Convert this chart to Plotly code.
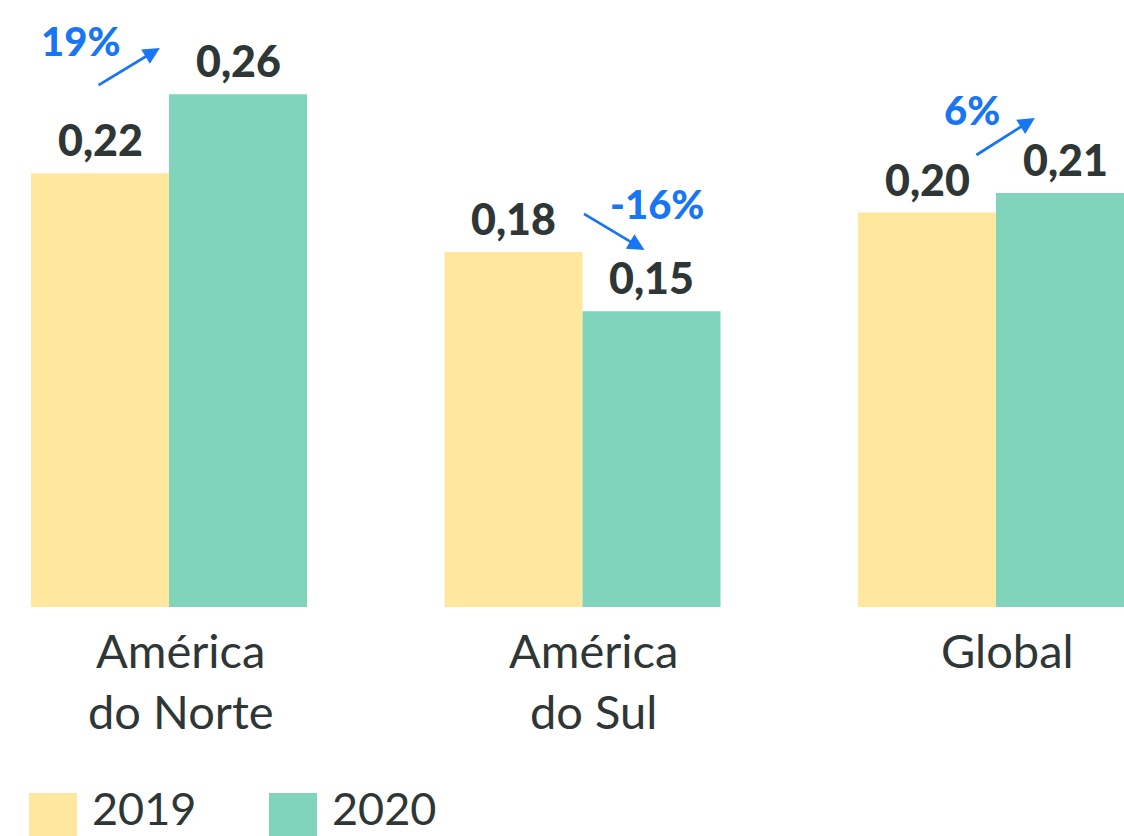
import plotly.graph_objects as go

# Data
categories = ["América<br>do Norte", "América<br>do Sul", "Global"]
values_2019 = [0.22, 0.18, 0.20]
values_2020 = [0.26, 0.15, 0.21]
series_names = ["2019", "2020"]
change_labels = ["19%", "-16%", "6%"]

# Styling
COLOR_2019 = "#FFE79D"
COLOR_2020 = "#80D4BC"
TEXT_DARK = "#2f3636"
BLUE = "#1976F2"
NUM_FONT = "Lato"
LABEL_FONT = "Lato"

W, H = 1124, 836
PLOT_BOTTOM = 607          # pixel row of the bar baseline
PX_PER_CAT = 413.5         # pixels between category centres
FIRST_CENTRE = 169         # pixel column of the first category centre
PX_PER_UNIT = 1972         # pixels per value unit

BAR_GAP = 0.3325
HALF = (1 - BAR_GAP) / 4  # offset of each bar centre from the category centre

fig = go.Figure()
fig.add_trace(go.Bar(x=list(range(3)), y=values_2019, name=series_names[0],
                     marker=dict(color=COLOR_2019, line=dict(width=0))))
fig.add_trace(go.Bar(x=list(range(3)), y=values_2020, name=series_names[1],
                     marker=dict(color=COLOR_2020, line=dict(width=0))))

annotations = []


def fmt(v):
    return f"{v:.2f}".replace(".", ",")


# Value labels above each bar
for i in range(3):
    for vals, sign in ((values_2019, -1), (values_2020, 1)):
        annotations.append(dict(
            x=i + sign * HALF, y=vals[i], xref="x", yref="y",
            text=fmt(vals[i]), showarrow=False, yanchor="bottom",
            yshift=6,
            font=dict(family=NUM_FONT, size=43, color=TEXT_DARK, weight=900),
        ))

# Category labels under each group
for i, cat in enumerate(categories):
    annotations.append(dict(
        x=i, y=0, xref="x", yref="y", text=cat, showarrow=False,
        yanchor="top", xanchor="center", xshift=11, yshift=-13,
        font=dict(family=LABEL_FONT, size=47, color=TEXT_DARK),
    ))

# Change arrows (tail -> head) and percentage text, in axis units
arrow_geom = [
    dict(tail=(-0.174, 0.2642), head=(-0.022, 0.2835), text=(-0.213, 0.287)),
    dict(tail=(1.000, 0.1998), head=(1.150, 0.1810), text=(1.181, 0.2044)),
    dict(tail=(1.949, 0.2287), head=(2.094, 0.2480), text=(1.942, 0.2520)),
]
for g, lab in zip(arrow_geom, change_labels):
    annotations.append(dict(
        x=g["head"][0], y=g["head"][1], ax=g["tail"][0], ay=g["tail"][1],
        xref="x", yref="y", axref="x", ayref="y", text="",
        showarrow=True, arrowhead=2, arrowsize=1.2, arrowwidth=2.8,
        arrowcolor=BLUE, standoff=0,
    ))
    annotations.append(dict(
        x=g["text"][0], y=g["text"][1], xref="x", yref="y", text=lab,
        showarrow=False, xanchor="center", yanchor="middle",
        font=dict(family=NUM_FONT, size=40, color=BLUE, weight=900),
    ))

# Legend drawn as large swatches with labels (paper units relative to plot area)
shapes = []
legend_items = [(series_names[0], COLOR_2019, 29), (series_names[1], COLOR_2020, 269)]
for name, color, x0 in legend_items:
    shapes.append(dict(type="rect", xref="paper", yref="paper",
                       x0=x0 / W, x1=(x0 + 48) / W,
                       y0=(PLOT_BOTTOM - H) / PLOT_BOTTOM,
                       y1=(PLOT_BOTTOM - 793) / PLOT_BOTTOM,
                       fillcolor=color, line=dict(width=0), layer="above"))
    annotations.append(dict(
        x=(x0 + 62) / W, y=(PLOT_BOTTOM - 836) / PLOT_BOTTOM,
        xref="paper", yref="paper",
        text=name, showarrow=False, xanchor="left", yanchor="bottom",
        borderpad=0,
        font=dict(family=LABEL_FONT, size=45, color=TEXT_DARK),
    ))

x0_range = -FIRST_CENTRE / PX_PER_CAT
fig.update_layout(
    width=W, height=H,
    margin=dict(l=0, r=0, t=0, b=H - PLOT_BOTTOM),
    paper_bgcolor="white", plot_bgcolor="white",
    barmode="group", bargap=BAR_GAP, bargroupgap=0,
    showlegend=False,
    xaxis=dict(range=[x0_range, x0_range + W / PX_PER_CAT],
               showticklabels=False, showgrid=False, zeroline=False,
               showline=False, ticks="", fixedrange=True),
    yaxis=dict(range=[0, PLOT_BOTTOM / PX_PER_UNIT], visible=False,
               showgrid=False, zeroline=False, fixedrange=True),
    annotations=annotations,
    shapes=shapes,
)

fig.write_html("out.html", config=dict(displayModeBar=False))
